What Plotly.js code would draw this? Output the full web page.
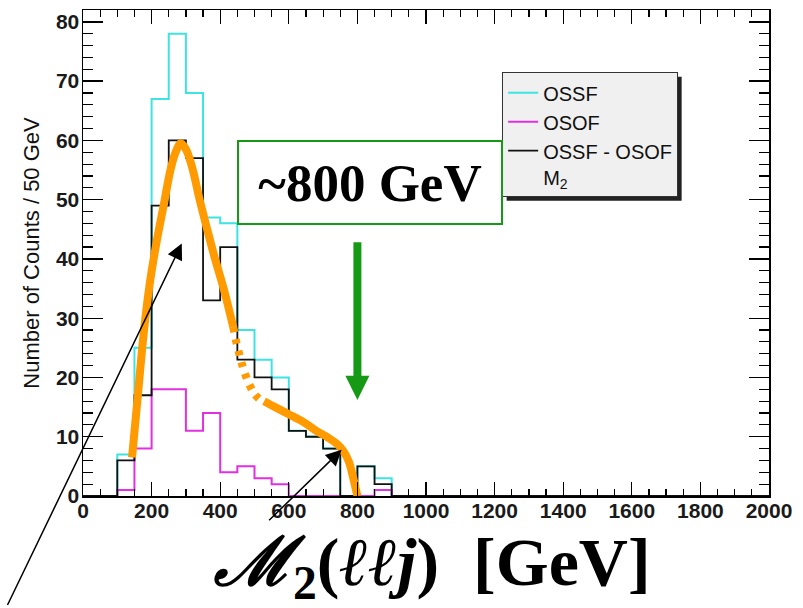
<!DOCTYPE html>
<html><head><meta charset="utf-8">
<script src="https://cdn.plot.ly/plotly-3.0.1.min.js"></script>
<style>html,body{margin:0;padding:0;background:#fff;} #chart{width:803px;height:608px;}</style>
</head><body><div id="chart"></div>
<script>
// Histogram bins (low edges, GeV) and counts per 50 GeV
const binLowEdges = [0,50,100,150,200,250,300,350,400,450,500,550,600,650,700,750,800,850,900];
const axisUpperEdge = 2000;
const ossfCounts = [0,0,7,25,67,78,68,47,46,28,23,20,11,10,8,0,5,3,0];
const osofCounts = [0,0,1,8,18,18,11,14,4,5,3,2,0,0,0,0,0,1,0];
const diffCounts = [0,0,6,17,49,60,57,33,42,23,20,18,11,10,8,0,5,2,0];
const seriesNames = ['OSSF','OSOF','OSSF - OSOF<br>M<sub>2</sub>'];
const seriesColors = ['#3ee4e4','#e030e0','#111111'];

// Hand-drawn orange guide curve (GeV, counts)
const curvePeakX = [143,160,178,195,215,235,255,270,285,300,318,340,362,385,410,438];
const curvePeakY = [6.5,17,28,36,43,49,55,58,59.5,58.5,55.5,50,45,40,35,28.5];
const curveDotX = [438,448,460,470,485,500,521];
const curveDotY = [28.5,25.7,23,21,18.8,17.2,16];
const curveTailX = [528,560,600,642,680,710,740,760,775,788,800];
const curveTailY = [16,15,13.8,12.5,11,10,8.8,7.5,5.8,3,0];

// Annotation anchors
const endpointGeV = 800;
const endpointArrowTipY = 16.2, endpointArrowBaseY = 20.3, endpointArrowTopY = 42.8;
const arrowPeak = {x: 288, y: 42.6};
const arrowTail = {x: 754, y: 7.8};

const xs = binLowEdges.concat([axisUpperEdge]);
function step(v){ return v.concat([0]); }

const green = '#169a16';
const orange = '#ff9a00';

const traces = [
  {x: xs, y: step(ossfCounts), name: seriesNames[0], mode:'lines', line:{shape:'hv', color:seriesColors[0], width:2}},
  {x: xs, y: step(osofCounts), name: seriesNames[1], mode:'lines', line:{shape:'hv', color:seriesColors[1], width:2}},
  {x: xs, y: step(diffCounts), name: seriesNames[2], mode:'lines', line:{shape:'hv', color:seriesColors[2], width:1.8}},
  {x: curvePeakX, y: curvePeakY, mode:'lines', showlegend:false, hoverinfo:'skip', line:{shape:'spline', color:orange, width:8}},
  {x: curveDotX, y: curveDotY, mode:'lines', showlegend:false, hoverinfo:'skip', line:{shape:'spline', color:orange, width:8, dash:'5px,7px'}},
  {x: curveTailX, y: curveTailY, mode:'lines', showlegend:false, hoverinfo:'skip', line:{shape:'spline', color:orange, width:8}}
];

const tickFont = {family:'Liberation Sans, Arial, sans-serif', size:21, color:'#1a1a1a', weight:'bold'};

const layout = {
  width: 803, height: 608,
  margin: {l:83, r:34, t:10, b:112},
  paper_bgcolor:'#fff', plot_bgcolor:'#fff',
  showlegend: true,
  legend: {
    x: 0.611, y: 0.872, xanchor:'left', yanchor:'top',
    bgcolor:'#f0f0f0', bordercolor:'#333', borderwidth:1,
    font:{family:'Liberation Sans, Arial, sans-serif', size:20, color:'#111'},
    valign:'top', traceorder:'normal', tracegroupgap:0
  },
  xaxis: {
    range:[0, 2000], dtick:200, tick0:0,
    ticks:'inside', ticklen:14, tickwidth:1.3, tickcolor:'#000',
    minor:{dtick:50, ticks:'inside', ticklen:7, tickwidth:1.2, tickcolor:'#000'},
    showline:true, linecolor:'#000', linewidth:1.5, mirror:'ticks',
    showgrid:false, zeroline:false, tickfont:tickFont, ticklabelstandoff:-5
  },
  yaxis: {
    range:[0, 82], dtick:10, tick0:0,
    ticks:'inside', ticklen:20, tickwidth:1.3, tickcolor:'#000',
    minor:{dtick:2, ticks:'inside', ticklen:10, tickwidth:1.2, tickcolor:'#000'},
    showline:true, linecolor:'#000', linewidth:1.5, mirror:'ticks',
    showgrid:false, zeroline:false, tickfont:tickFont, ticklabelstandoff:-2,
    title:{text:'Number of Counts / 50 GeV', font:{family:'Liberation Sans, Arial, sans-serif', size:22, color:'#111'}, standoff:10}
  },
  shapes: [
    // green arrow shaft + head
    {type:'line', xref:'x', yref:'y', x0:endpointGeV, x1:endpointGeV, y0:endpointArrowBaseY-0.3, y1:endpointArrowTopY, line:{color:green, width:8}, layer:'above'},
    {type:'path', xref:'x', yref:'y', path:`M ${endpointGeV-35},${endpointArrowBaseY} L ${endpointGeV+35},${endpointArrowBaseY} L ${endpointGeV},${endpointArrowTipY} Z`, fillcolor:green, line:{width:0}, layer:'above'}
  ],
  annotations: [
    {xref:'paper', yref:'paper', x:(370-83)/686, y:(496-182.5)/486, xanchor:'center', yanchor:'middle',
     text:'<b>~800 GeV</b>', showarrow:false, width:262, height:81, borderwidth:2, bordercolor:green, bgcolor:'rgba(255,255,255,0)', borderpad:0,
     font:{family:'Liberation Serif, Times New Roman, serif', size:53, color:'#000'}},
    {xref:'x', yref:'y', x:arrowPeak.x, y:arrowPeak.y, ax:-175, ay:363, text:'', showarrow:true, arrowhead:2, arrowsize:2.1, arrowwidth:1.5, arrowcolor:'#000'},
    {xref:'x', yref:'y', x:arrowTail.x, y:arrowTail.y, ax:-74, ay:72, text:'', showarrow:true, arrowhead:2, arrowsize:2.1, arrowwidth:1.5, arrowcolor:'#000'},
    {xref:'paper', yref:'paper', x:(432-83)/686, y:(496-566)/486, xanchor:'center', yanchor:'middle', showarrow:false,
     text:'<b><i>ℳ</i><sub>2</sub>(<i>ℓℓj</i>)\u00a0\u00a0[GeV]</b>',
     font:{family:'Liberation Serif, DejaVu Serif, Times New Roman, serif', size:68, color:'#000'}}
  ]
};

Plotly.newPlot('chart', traces, layout, {staticPlot:true, displayModeBar:false}).then(function(gd){
  // drop shadow behind the legend box, sized from the drawn legend
  const bg = gd.querySelector('.legend .bg');
  if (!bg) return;
  const r = bg.getBoundingClientRect();
  const c = gd.getBoundingClientRect();
  const L = r.left - c.left, T = r.top - c.top, R = r.right - c.left, B = r.bottom - c.top;
  const off = 4;
  const toPX = function(px){ return (px - 83) / 686; };
  const toPY = function(py){ return (496 - py) / 486; };
  const shadow = {type:'rect', xref:'paper', yref:'paper', x0:toPX(L+off), x1:toPX(R+off), y0:toPY(B+off), y1:toPY(T+off), fillcolor:'#222', line:{width:0}, layer:'above'};
  return Plotly.relayout(gd, {shapes: gd.layout.shapes.concat([shadow])});
});
</script>
</body></html>
